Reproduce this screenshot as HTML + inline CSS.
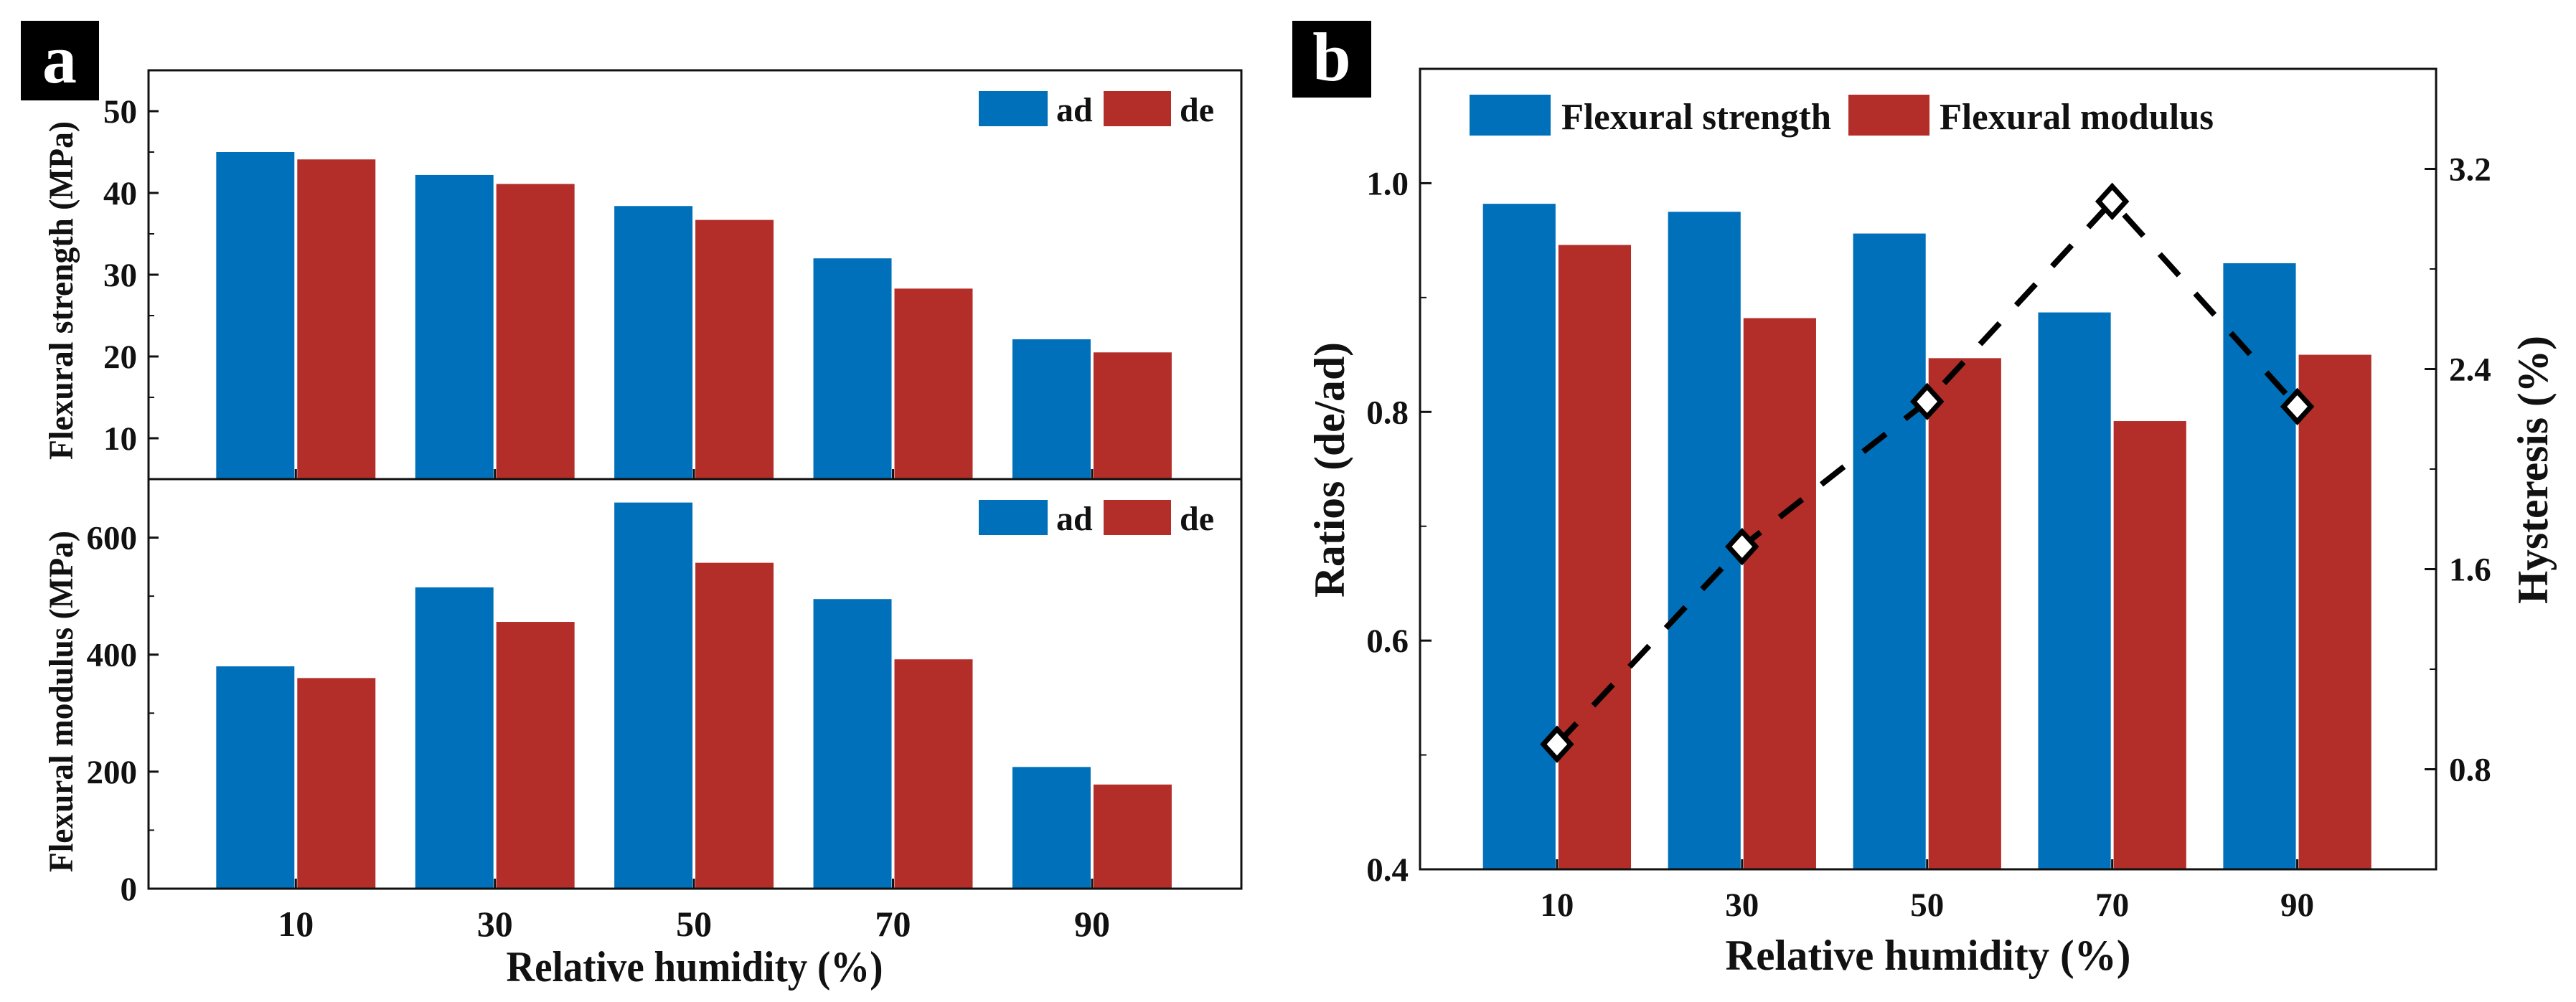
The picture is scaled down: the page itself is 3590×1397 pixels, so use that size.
<!DOCTYPE html>
<html><head><meta charset="utf-8"><style>
html,body{margin:0;padding:0;background:#fff}
svg{display:block}
text{font-family:"Liberation Serif",serif;font-weight:bold;fill:#111}
</style></head><body>
<svg id="chart" width="3590" height="1397" viewBox="0 0 3590 1397" xmlns="http://www.w3.org/2000/svg"></svg>
<script>
const categories=["10","30","50","70","90"];
const strengthAd=[45,42.2,38.4,32,22.1];
const strengthDe=[44.1,41.1,36.7,28.3,20.5];
const modulusAd=[380,515,660,495,208];
const modulusDe=[360,456,557,392,178];
const ratioStrength=[0.982,0.975,0.956,0.887,0.930];
const ratioModulus=[0.946,0.882,0.847,0.792,0.850];
const hysteresis=[0.90,1.69,2.27,3.07,2.25];
const strengthTicks=[10,20,30,40,50];
const modulusTicks=[0,200,400,600];
const ratioTicks=[0.4,0.6,0.8,1.0];
const hystTicks=[0.8,1.6,2.4,3.2];

const NS="http://www.w3.org/2000/svg";
const svg=document.getElementById('chart');
const BLUE="#0070bb",RED="#b32d29";
function mk(tag,attrs,parent,txt){const e=document.createElementNS(NS,tag);for(const k in attrs)e.setAttribute(k,attrs[k]);if(txt!==undefined)e.textContent=txt;(parent||svg).appendChild(e);return e;}
function lin(d0,d1,r0,r1){return v=>r0+(v-d0)*(r1-r0)/(d1-d0);}
const SA='spacingAndGlyphs';

// ---------- Panel a ----------
const aL=207,aR=1730,aT=98,aM=668,aB=1239;
const axA=lin(-0.74,4.75,aL,aR);
const yS=lin(5,55,aM,aT);
const yM=lin(0,700,aB,aM);
const gA=mk('g',{});



function drawBars(g,xs,ys,vals,base,off,color,name){
  vals.forEach((v,i)=>{
    const x0=xs(i+off),x1=xs(i+off+0.4);
    const r=mk('rect',{x:x0+(off<0?0:2),y:ys(v),width:x1-x0-2,height:ys(base)-ys(v),fill:color},g);
    
    
  });
}
drawBars(gA,axA,yS,strengthAd,5,-0.4,BLUE,'strength-ad-bar');
drawBars(gA,axA,yS,strengthDe,5,0,RED,'strength-de-bar');
drawBars(gA,axA,yM,modulusAd,0,-0.4,BLUE,'modulus-ad-bar');
drawBars(gA,axA,yM,modulusDe,0,0,RED,'modulus-de-bar');

mk('rect',{x:aL,y:aT,width:aR-aL,height:aB-aT,fill:'none',stroke:'#111','stroke-width':3},gA);
mk('line',{x1:aL,y1:aM,x2:aR,y2:aM,stroke:'#111','stroke-width':3},gA);
strengthTicks.forEach(t=>{const y=yS(t);
  mk('line',{x1:aL,y1:y,x2:aL+14,y2:y,stroke:'#111','stroke-width':3},gA);
  const y2=yS(t+5); if(y2>aT) mk('line',{x1:aL,y1:y2,x2:aL+8,y2:y2,stroke:'#111','stroke-width':2},gA);
  const tx=mk('text',{x:aL-16,y:y+16,'font-size':47,'text-anchor':'end'},gA,t);
  
  
});
modulusTicks.forEach(t=>{const y=yM(t);
  mk('line',{x1:aL,y1:y,x2:aL+14,y2:y,stroke:'#111','stroke-width':3},gA);
  const y2=yM(t+100); if(y2>aM+5) mk('line',{x1:aL,y1:y2,x2:aL+8,y2:y2,stroke:'#111','stroke-width':2},gA);
  const tx=mk('text',{x:aL-16,y:y+16,'font-size':47,'text-anchor':'end'},gA,t);
  
  
});
categories.forEach((c,i)=>{const x=axA(i);
  mk('line',{x1:x,y1:aB,x2:x,y2:aB-14,stroke:'#111','stroke-width':3},gA);
  mk('line',{x1:x,y1:aM,x2:x,y2:aM-14,stroke:'#111','stroke-width':3},gA);
  const tx=mk('text',{x:x,y:aB+66,'font-size':50,'text-anchor':'middle'},gA,c);
  
  
});
let t;
t=mk('text',{x:968,y:1368,'font-size':60,'text-anchor':'middle',textLength:525,lengthAdjust:SA},gA,'Relative humidity (%)');

t=mk('text',{x:0,y:0,'font-size':48,'text-anchor':'middle',textLength:472,lengthAdjust:SA,transform:'translate(101,405) rotate(-90)'},gA,'Flexural strength (MPa)');

t=mk('text',{x:0,y:0,'font-size':48,'text-anchor':'middle',textLength:476,lengthAdjust:SA,transform:'translate(101,978) rotate(-90)'},gA,'Flexural modulus (MPa)');

[[127],[697]].forEach(([ly],k)=>{
  const lg=mk('g',{},gA);
  
  
  mk('rect',{x:1364,y:ly,width:96,height:49,fill:BLUE},lg);
  mk('text',{x:1472,y:ly+42,'font-size':48},lg,'ad');
  mk('rect',{x:1538,y:ly,width:94,height:49,fill:RED},lg);
  mk('text',{x:1644,y:ly+42,'font-size':48},lg,'de');
});
const la=mk('g',{});
mk('rect',{x:29,y:29,width:109,height:111,fill:'#000'},la);
mk('text',{x:83,y:115,'font-size':96,'text-anchor':'middle',style:'fill:#fff'},la,'a');

// ---------- Panel b ----------
const bL=1979,bR=3395,bT=96,bB=1212;
const axB=lin(-0.74,4.75,bL,bR);
const yR=lin(0.4,1.1,bB,bT);
const yH=lin(0.4,3.6,bB,bT);
const gB=mk('g',{});


drawBars(gB,axB,yR,ratioStrength,0.4,-0.4,BLUE,'ratio-strength-bar');
drawBars(gB,axB,yR,ratioModulus,0.4,0,RED,'ratio-modulus-bar');
mk('rect',{x:bL,y:bT,width:bR-bL,height:bB-bT,fill:'none',stroke:'#111','stroke-width':3},gB);
ratioTicks.forEach(v=>{const y=yR(v);
  mk('line',{x1:bL,y1:y,x2:bL+16,y2:y,stroke:'#111','stroke-width':3},gB);
  const y2=yR(v+0.1); if(y2>bT+5) mk('line',{x1:bL,y1:y2,x2:bL+9,y2:y2,stroke:'#111','stroke-width':2},gB);
  const tx=mk('text',{x:bL-16,y:y+16,'font-size':47,'text-anchor':'end'},gB,v.toFixed(1));
  
});
hystTicks.forEach(v=>{const y=yH(v);
  mk('line',{x1:bR,y1:y,x2:bR-16,y2:y,stroke:'#111','stroke-width':3},gB);
  const y2=yH(v+0.4); if(y2>bT+5) mk('line',{x1:bR,y1:y2,x2:bR-9,y2:y2,stroke:'#111','stroke-width':2},gB);
  const tx=mk('text',{x:bR+18,y:y+16,'font-size':47},gB,v.toFixed(1));
  
});
mk('line',{x1:bR,y1:yH(0.4),x2:bR-9,y2:yH(0.4),stroke:'#111','stroke-width':2},gB);
categories.forEach((c,i)=>{const x=axB(i);
  mk('line',{x1:x,y1:bB,x2:x,y2:bB-14,stroke:'#111','stroke-width':3},gB);
  const tx=mk('text',{x:x,y:bB+65,'font-size':47,'text-anchor':'middle'},gB,c);
  
});
const pts=hysteresis.map((v,i)=>[axB(i),yH(v)]);
const line=mk('polyline',{points:pts.map(p=>p.join(',')).join(' '),fill:'none',stroke:'#000','stroke-width':8,'stroke-dasharray':'40 34'},gB);

pts.forEach((p,i)=>{
  const d=mk('path',{d:`M${p[0]},${p[1]-21} L${p[0]+19},${p[1]} L${p[0]},${p[1]+21} L${p[0]-19},${p[1]} Z`,fill:'#fff',stroke:'#000','stroke-width':7},gB);
  
  
});
t=mk('text',{x:2687,y:1352,'font-size':60,'text-anchor':'middle',textLength:565,lengthAdjust:SA},gB,'Relative humidity (%)');

t=mk('text',{x:0,y:0,'font-size':60,'text-anchor':'middle',textLength:356,lengthAdjust:SA,transform:'translate(1873,655) rotate(-90)'},gB,'Ratios (de/ad)');

t=mk('text',{x:0,y:0,'font-size':60,'text-anchor':'middle',textLength:374,lengthAdjust:SA,transform:'translate(3550,655) rotate(-90)'},gB,'Hysteresis (%)');

const lb=mk('g',{},gB);
mk('rect',{x:2048,y:132,width:113,height:57,fill:BLUE},lb);
mk('text',{x:2176,y:180,'font-size':52,textLength:376,lengthAdjust:SA},lb,'Flexural strength');
mk('rect',{x:2576,y:132,width:113,height:57,fill:RED},lb);
mk('text',{x:2703,y:180,'font-size':52,textLength:382,lengthAdjust:SA},lb,'Flexural modulus');
const lbb=mk('g',{});
mk('rect',{x:1801,y:29,width:110,height:107,fill:'#000'},lbb);
mk('text',{x:1856,y:112,'font-size':96,'text-anchor':'middle',style:'fill:#fff'},lbb,'b');
</script>
</body></html>
